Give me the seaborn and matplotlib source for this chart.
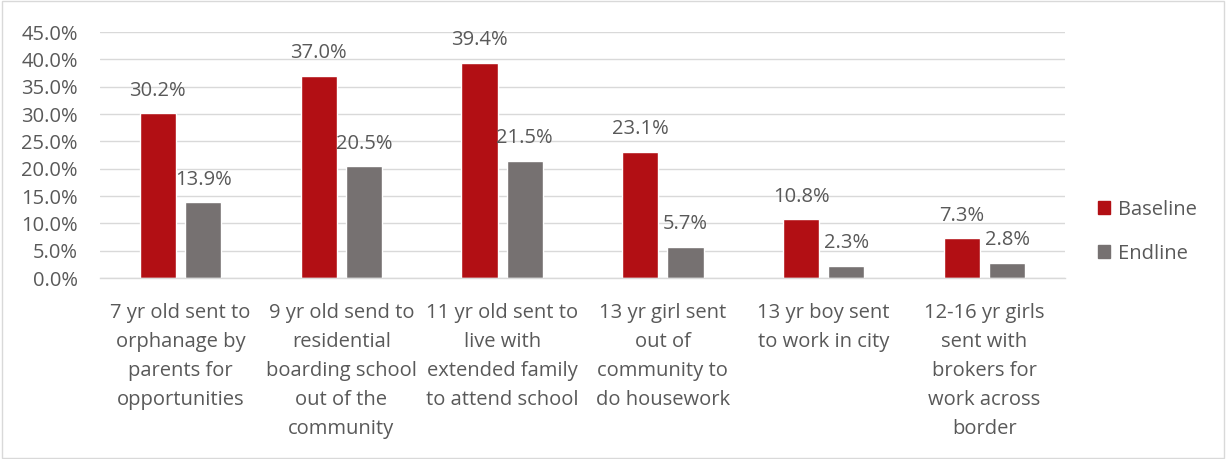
import numpy as np
import pandas as pd
import matplotlib
matplotlib.use("Agg")
import matplotlib.pyplot as plt
import seaborn as sns
from matplotlib.ticker import PercentFormatter
from matplotlib.patches import Rectangle

categories = [
    "7 yr old sent to\norphanage by\nparents for\nopportunities",
    "9 yr old send to\nresidential\nboarding school\nout of the\ncommunity",
    "11 yr old sent to\nlive with\nextended family\nto attend school",
    "13 yr girl sent\nout of\ncommunity to\ndo housework",
    "13 yr boy sent\nto work in city",
    "12-16 yr girls\nsent with\nbrokers for\nwork across\nborder",
]
baseline = [30.2, 37.0, 39.4, 23.1, 10.8, 7.3]
endline = [13.9, 20.5, 21.5, 5.7, 2.3, 2.8]
series = ["Baseline", "Endline"]
colors = ["#B20F14", "#767171"]
text_color = "#595959"
fs = 14.5

df = pd.DataFrame({
    "category": categories * 2,
    "series": [series[0]] * len(categories) + [series[1]] * len(categories),
    "value": baseline + endline,
})

sns.set_theme(style="white")
plt.rcParams["font.family"] = ["Open Sans", "DejaVu Sans"]

fig = plt.figure(figsize=(12.26, 4.59), dpi=100)
ax = fig.add_axes([0.0816, 0.394, 0.787, 0.536])

sns.barplot(data=df, x="category", y="value", hue="series",
            palette=colors, width=0.5625, gap=0.2, saturation=1,
            ax=ax, legend=False, errorbar=None)

ax.set_ylim(0, 45)
ax.set_xlim(-0.5, len(categories) - 0.5)
ax.set_yticks(np.arange(0, 46, 5))
ax.yaxis.set_major_formatter(PercentFormatter(100, decimals=1))
ax.grid(axis="y", color="#D9D9D9", linewidth=1)
ax.set_axisbelow(True)
for side in ["left", "right", "top"]:
    ax.spines[side].set_visible(False)
ax.spines["bottom"].set_color("#D9D9D9")
ax.spines["bottom"].set_linewidth(1)
ax.tick_params(axis="both", length=0, labelsize=fs, colors=text_color)
ax.tick_params(axis="x", pad=18)
ax.tick_params(axis="y", pad=16)
ax.set_xlabel("")
ax.set_ylabel("")
for lbl in ax.get_xticklabels():
    lbl.set_linespacing(1.6)

for container in ax.containers:
    ax.bar_label(container, fmt="%.1f%%", padding=9, fontsize=fs,
                 color=text_color)

# legend on the right
handles = [Rectangle((0, 0), 1, 1, color=c) for c in colors]
fig.legend(handles, series, loc="center left", bbox_to_anchor=(0.881, 0.495),
           frameon=False, fontsize=fs, labelcolor=text_color,
           handlelength=0.6, handleheight=0.6, handletextpad=0.4,
           labelspacing=1.2)

# outer chart border
fig.patches.append(Rectangle((0.002, 0.003), 0.996, 0.994,
                             transform=fig.transFigure, fill=False,
                             edgecolor="#D9D9D9", linewidth=1))

fig.savefig("out.png", dpi=100, facecolor="white")
